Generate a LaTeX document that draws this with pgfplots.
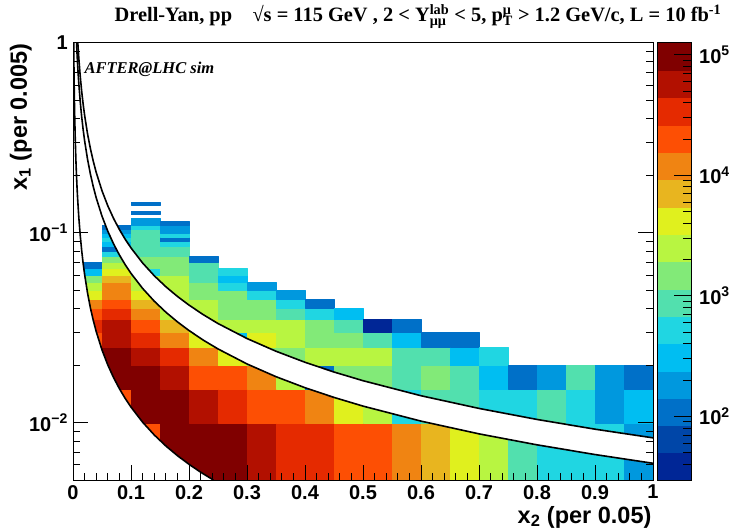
\documentclass[border=0pt]{standalone}
\usepackage{fontspec}
\setmainfont{Liberation Serif}
\setsansfont{Liberation Sans}
\usepackage{pgfplots}
\pgfplotsset{compat=1.18}
\usepgfplotslibrary{patchplots}
\pgfplotsset{
  rootmap/.style={colormap={root}{rgb255=(0,38,150) rgb255=(0,70,168) rgb255=(0,112,200) rgb255=(0,152,222) rgb255=(0,190,242) rgb255=(32,214,226) rgb255=(82,224,174) rgb255=(130,234,120) rgb255=(184,245,65) rgb255=(224,240,30) rgb255=(232,181,31) rgb255=(240,132,18) rgb255=(253,79,4) rgb255=(229,42,0) rgb255=(178,16,0) rgb255=(128,0,0)}},
}
\newcommand\tlfont{\sffamily\bfseries\fontsize{20}{20}\selectfont}
\newcommand\supsub[2]{\setbox0\hbox{\textsuperscript{#1}}\setbox2\hbox{\textsubscript{#2}}\ifdim\wd0>\wd2 \rlap{\box2}\box0 \else\rlap{\box0}\box2 \fi}
\begin{document}
\begin{tikzpicture}
\useasboundingbox (0pt,0pt) rectangle (741pt,531pt);
\begin{axis}[
  at={(73pt,51pt)}, anchor=south west,
  width=580pt, height=437pt, scale only axis,
  xmin=0, xmax=1, ymin=0.005, ymax=1, ymode=log,
  rootmap, point meta min=0, point meta max=15,
  axis on top,
  tick align=inside,
  xtick pos=left, ytick pos=both,
  xtick={0,0.1,0.2,0.3,0.4,0.5,0.6,0.7,0.8,0.9,1},
  xticklabels={0,0.1,0.2,0.3,0.4,0.5,0.6,0.7,0.8,0.9,1},
  minor x tick num=4,
  ytick={0.01,0.1,1},
  yticklabels={10\textsuperscript{−2},10\textsuperscript{−1},1},
  minor ytick={0.005,0.006,0.007,0.008,0.009,0.02,0.03,0.04,0.05,0.06,0.07,0.08,0.09,0.2,0.3,0.4,0.5,0.6,0.7,0.8,0.9},
  major tick length=15pt, minor tick length=7pt,
  every tick/.style={black, line width=1pt},
  axis line style={line width=1pt},
  xticklabel style={font=\tlfont, anchor=north, inner sep=0pt, yshift=-5pt},
  yticklabel style={font=\tlfont, anchor=east, inner sep=0pt, xshift=-5pt},
]
% 2D histogram cells: x2 bin width 0.05, x1 bin width 0.005; meta = colour level 0..15
\addplot[patch, patch type=rectangle, shader=flat, point meta=explicit] coordinates {
(0,0.025)[12] (0.05,0.025)[12] (0.05,0.03)[12] (0,0.03)[12]
(0,0.03)[13] (0.05,0.03)[13] (0.05,0.035)[13] (0,0.035)[13]
(0,0.035)[12] (0.05,0.035)[12] (0.05,0.04)[12] (0,0.04)[12]
(0,0.04)[11] (0.05,0.04)[11] (0.05,0.045)[11] (0,0.045)[11]
(0,0.045)[9] (0.05,0.045)[9] (0.05,0.05)[9] (0,0.05)[9]
(0,0.05)[8] (0.05,0.05)[8] (0.05,0.055)[8] (0,0.055)[8]
(0,0.055)[7] (0.05,0.055)[7] (0.05,0.06)[7] (0,0.06)[7]
(0,0.06)[4] (0.05,0.06)[4] (0.05,0.065)[4] (0,0.065)[4]
(0,0.065)[2] (0.05,0.065)[2] (0.05,0.07)[2] (0,0.07)[2]
(0.05,0.01)[12] (0.1,0.01)[12] (0.1,0.015)[12] (0.05,0.015)[12]
(0.05,0.015)[15] (0.1,0.015)[15] (0.1,0.02)[15] (0.05,0.02)[15]
(0.05,0.02)[15] (0.1,0.02)[15] (0.1,0.025)[15] (0.05,0.025)[15]
(0.05,0.025)[14] (0.1,0.025)[14] (0.1,0.03)[14] (0.05,0.03)[14]
(0.05,0.03)[14] (0.1,0.03)[14] (0.1,0.035)[14] (0.05,0.035)[14]
(0.05,0.035)[13] (0.1,0.035)[13] (0.1,0.04)[13] (0.05,0.04)[13]
(0.05,0.04)[12] (0.1,0.04)[12] (0.1,0.045)[12] (0.05,0.045)[12]
(0.05,0.045)[11] (0.1,0.045)[11] (0.1,0.05)[11] (0.05,0.05)[11]
(0.05,0.05)[11] (0.1,0.05)[11] (0.1,0.055)[11] (0.05,0.055)[11]
(0.05,0.055)[10] (0.1,0.055)[10] (0.1,0.06)[10] (0.05,0.06)[10]
(0.05,0.06)[9] (0.1,0.06)[9] (0.1,0.065)[9] (0.05,0.065)[9]
(0.05,0.065)[8] (0.1,0.065)[8] (0.1,0.07)[8] (0.05,0.07)[8]
(0.05,0.07)[7] (0.1,0.07)[7] (0.1,0.075)[7] (0.05,0.075)[7]
(0.05,0.075)[5] (0.1,0.075)[5] (0.1,0.08)[5] (0.05,0.08)[5]
(0.05,0.08)[2] (0.1,0.08)[2] (0.1,0.085)[2] (0.05,0.085)[2]
(0.05,0.085)[4] (0.1,0.085)[4] (0.1,0.09)[4] (0.05,0.09)[4]
(0.05,0.09)[5] (0.1,0.09)[5] (0.1,0.095)[5] (0.05,0.095)[5]
(0.05,0.095)[4] (0.1,0.095)[4] (0.1,0.1)[4] (0.05,0.1)[4]
(0.05,0.1)[3] (0.1,0.1)[3] (0.1,0.105)[3] (0.05,0.105)[3]
(0.05,0.105)[2] (0.1,0.105)[2] (0.1,0.11)[2] (0.05,0.11)[2]
(0.1,0.005)[12] (0.15,0.005)[12] (0.15,0.01)[12] (0.1,0.01)[12]
(0.1,0.01)[15] (0.15,0.01)[15] (0.15,0.015)[15] (0.1,0.015)[15]
(0.1,0.015)[15] (0.15,0.015)[15] (0.15,0.02)[15] (0.1,0.02)[15]
(0.1,0.02)[14] (0.15,0.02)[14] (0.15,0.025)[14] (0.1,0.025)[14]
(0.1,0.025)[13] (0.15,0.025)[13] (0.15,0.03)[13] (0.1,0.03)[13]
(0.1,0.03)[12] (0.15,0.03)[12] (0.15,0.035)[12] (0.1,0.035)[12]
(0.1,0.035)[11] (0.15,0.035)[11] (0.15,0.04)[11] (0.1,0.04)[11]
(0.1,0.04)[10] (0.15,0.04)[10] (0.15,0.045)[10] (0.1,0.045)[10]
(0.1,0.045)[9] (0.15,0.045)[9] (0.15,0.05)[9] (0.1,0.05)[9]
(0.1,0.05)[8] (0.15,0.05)[8] (0.15,0.055)[8] (0.1,0.055)[8]
(0.1,0.055)[8] (0.15,0.055)[8] (0.15,0.06)[8] (0.1,0.06)[8]
(0.1,0.06)[5] (0.15,0.06)[5] (0.15,0.065)[5] (0.1,0.065)[5]
(0.1,0.065)[7] (0.15,0.065)[7] (0.15,0.07)[7] (0.1,0.07)[7]
(0.1,0.07)[7] (0.15,0.07)[7] (0.15,0.075)[7] (0.1,0.075)[7]
(0.1,0.075)[6] (0.15,0.075)[6] (0.15,0.08)[6] (0.1,0.08)[6]
(0.1,0.08)[6] (0.15,0.08)[6] (0.15,0.085)[6] (0.1,0.085)[6]
(0.1,0.085)[6] (0.15,0.085)[6] (0.15,0.09)[6] (0.1,0.09)[6]
(0.1,0.09)[6] (0.15,0.09)[6] (0.15,0.095)[6] (0.1,0.095)[6]
(0.1,0.095)[6] (0.15,0.095)[6] (0.15,0.1)[6] (0.1,0.1)[6]
(0.1,0.1)[6] (0.15,0.1)[6] (0.15,0.105)[6] (0.1,0.105)[6]
(0.1,0.105)[5] (0.15,0.105)[5] (0.15,0.11)[5] (0.1,0.11)[5]
(0.1,0.11)[3] (0.15,0.11)[3] (0.15,0.115)[3] (0.1,0.115)[3]
(0.1,0.115)[3] (0.15,0.115)[3] (0.15,0.12)[3] (0.1,0.12)[3]
(0.1,0.125)[2] (0.15,0.125)[2] (0.15,0.13)[2] (0.1,0.13)[2]
(0.1,0.14)[2] (0.15,0.14)[2] (0.15,0.145)[2] (0.1,0.145)[2]
(0.15,0.005)[15] (0.2,0.005)[15] (0.2,0.01)[15] (0.15,0.01)[15]
(0.15,0.01)[15] (0.2,0.01)[15] (0.2,0.015)[15] (0.15,0.015)[15]
(0.15,0.015)[14] (0.2,0.015)[14] (0.2,0.02)[14] (0.15,0.02)[14]
(0.15,0.02)[13] (0.2,0.02)[13] (0.2,0.025)[13] (0.15,0.025)[13]
(0.15,0.025)[11] (0.2,0.025)[11] (0.2,0.03)[11] (0.15,0.03)[11]
(0.15,0.03)[10] (0.2,0.03)[10] (0.2,0.035)[10] (0.15,0.035)[10]
(0.15,0.035)[8] (0.2,0.035)[8] (0.2,0.04)[8] (0.15,0.04)[8]
(0.15,0.04)[8] (0.2,0.04)[8] (0.2,0.045)[8] (0.15,0.045)[8]
(0.15,0.045)[8] (0.2,0.045)[8] (0.2,0.05)[8] (0.15,0.05)[8]
(0.15,0.05)[8] (0.2,0.05)[8] (0.2,0.055)[8] (0.15,0.055)[8]
(0.15,0.055)[8] (0.2,0.055)[8] (0.2,0.06)[8] (0.15,0.06)[8]
(0.15,0.06)[7] (0.2,0.06)[7] (0.2,0.065)[7] (0.15,0.065)[7]
(0.15,0.065)[7] (0.2,0.065)[7] (0.2,0.07)[7] (0.15,0.07)[7]
(0.15,0.07)[7] (0.2,0.07)[7] (0.2,0.075)[7] (0.15,0.075)[7]
(0.15,0.075)[6] (0.2,0.075)[6] (0.2,0.08)[6] (0.15,0.08)[6]
(0.15,0.08)[6] (0.2,0.08)[6] (0.2,0.085)[6] (0.15,0.085)[6]
(0.15,0.085)[5] (0.2,0.085)[5] (0.2,0.09)[5] (0.15,0.09)[5]
(0.15,0.09)[2] (0.2,0.09)[2] (0.2,0.095)[2] (0.15,0.095)[2]
(0.15,0.095)[5] (0.2,0.095)[5] (0.2,0.1)[5] (0.15,0.1)[5]
(0.15,0.1)[3] (0.2,0.1)[3] (0.2,0.105)[3] (0.15,0.105)[3]
(0.15,0.105)[3] (0.2,0.105)[3] (0.2,0.11)[3] (0.15,0.11)[3]
(0.15,0.11)[2] (0.2,0.11)[2] (0.2,0.115)[2] (0.15,0.115)[2]
(0.2,0.005)[15] (0.25,0.005)[15] (0.25,0.01)[15] (0.2,0.01)[15]
(0.2,0.01)[14] (0.25,0.01)[14] (0.25,0.015)[14] (0.2,0.015)[14]
(0.2,0.015)[12] (0.25,0.015)[12] (0.25,0.02)[12] (0.2,0.02)[12]
(0.2,0.02)[11] (0.25,0.02)[11] (0.25,0.025)[11] (0.2,0.025)[11]
(0.2,0.025)[9] (0.25,0.025)[9] (0.25,0.03)[9] (0.2,0.03)[9]
(0.2,0.03)[9] (0.25,0.03)[9] (0.25,0.035)[9] (0.2,0.035)[9]
(0.2,0.035)[8] (0.25,0.035)[8] (0.25,0.04)[8] (0.2,0.04)[8]
(0.2,0.04)[8] (0.25,0.04)[8] (0.25,0.045)[8] (0.2,0.045)[8]
(0.2,0.045)[7] (0.25,0.045)[7] (0.25,0.05)[7] (0.2,0.05)[7]
(0.2,0.05)[7] (0.25,0.05)[7] (0.25,0.055)[7] (0.2,0.055)[7]
(0.2,0.055)[6] (0.25,0.055)[6] (0.25,0.06)[6] (0.2,0.06)[6]
(0.2,0.06)[6] (0.25,0.06)[6] (0.25,0.065)[6] (0.2,0.065)[6]
(0.2,0.065)[6] (0.25,0.065)[6] (0.25,0.07)[6] (0.2,0.07)[6]
(0.2,0.07)[2] (0.25,0.07)[2] (0.25,0.075)[2] (0.2,0.075)[2]
(0.25,0.005)[15] (0.3,0.005)[15] (0.3,0.01)[15] (0.25,0.01)[15]
(0.25,0.01)[13] (0.3,0.01)[13] (0.3,0.015)[13] (0.25,0.015)[13]
(0.25,0.015)[12] (0.3,0.015)[12] (0.3,0.02)[12] (0.25,0.02)[12]
(0.25,0.02)[9] (0.3,0.02)[9] (0.3,0.025)[9] (0.25,0.025)[9]
(0.25,0.025)[4] (0.3,0.025)[4] (0.3,0.03)[4] (0.25,0.03)[4]
(0.25,0.03)[8] (0.3,0.03)[8] (0.3,0.035)[8] (0.25,0.035)[8]
(0.25,0.035)[7] (0.3,0.035)[7] (0.3,0.04)[7] (0.25,0.04)[7]
(0.25,0.04)[7] (0.3,0.04)[7] (0.3,0.045)[7] (0.25,0.045)[7]
(0.25,0.045)[7] (0.3,0.045)[7] (0.3,0.05)[7] (0.25,0.05)[7]
(0.25,0.05)[5] (0.3,0.05)[5] (0.3,0.055)[5] (0.25,0.055)[5]
(0.25,0.055)[4] (0.3,0.055)[4] (0.3,0.06)[4] (0.25,0.06)[4]
(0.25,0.06)[5] (0.3,0.06)[5] (0.3,0.065)[5] (0.25,0.065)[5]
(0.3,0.005)[14] (0.35,0.005)[14] (0.35,0.01)[14] (0.3,0.01)[14]
(0.3,0.01)[12] (0.35,0.01)[12] (0.35,0.015)[12] (0.3,0.015)[12]
(0.3,0.015)[11] (0.35,0.015)[11] (0.35,0.02)[11] (0.3,0.02)[11]
(0.3,0.02)[7] (0.35,0.02)[7] (0.35,0.025)[7] (0.3,0.025)[7]
(0.3,0.025)[9] (0.35,0.025)[9] (0.35,0.03)[9] (0.3,0.03)[9]
(0.3,0.03)[8] (0.35,0.03)[8] (0.35,0.035)[8] (0.3,0.035)[8]
(0.3,0.035)[7] (0.35,0.035)[7] (0.35,0.04)[7] (0.3,0.04)[7]
(0.3,0.04)[7] (0.35,0.04)[7] (0.35,0.045)[7] (0.3,0.045)[7]
(0.3,0.045)[5] (0.35,0.045)[5] (0.35,0.05)[5] (0.3,0.05)[5]
(0.3,0.05)[3] (0.35,0.05)[3] (0.35,0.055)[3] (0.3,0.055)[3]
(0.35,0.005)[13] (0.4,0.005)[13] (0.4,0.01)[13] (0.35,0.01)[13]
(0.35,0.01)[12] (0.4,0.01)[12] (0.4,0.015)[12] (0.35,0.015)[12]
(0.35,0.015)[8] (0.4,0.015)[8] (0.4,0.02)[8] (0.35,0.02)[8]
(0.35,0.02)[7] (0.4,0.02)[7] (0.4,0.025)[7] (0.35,0.025)[7]
(0.35,0.025)[8] (0.4,0.025)[8] (0.4,0.03)[8] (0.35,0.03)[8]
(0.35,0.03)[8] (0.4,0.03)[8] (0.4,0.035)[8] (0.35,0.035)[8]
(0.35,0.035)[6] (0.4,0.035)[6] (0.4,0.04)[6] (0.35,0.04)[6]
(0.35,0.04)[5] (0.4,0.04)[5] (0.4,0.045)[5] (0.35,0.045)[5]
(0.35,0.045)[3] (0.4,0.045)[3] (0.4,0.05)[3] (0.35,0.05)[3]
(0.4,0.005)[13] (0.45,0.005)[13] (0.45,0.01)[13] (0.4,0.01)[13]
(0.4,0.01)[11] (0.45,0.01)[11] (0.45,0.015)[11] (0.4,0.015)[11]
(0.4,0.015)[2] (0.45,0.015)[2] (0.45,0.02)[2] (0.4,0.02)[2]
(0.4,0.02)[8] (0.45,0.02)[8] (0.45,0.025)[8] (0.4,0.025)[8]
(0.4,0.025)[7] (0.45,0.025)[7] (0.45,0.03)[7] (0.4,0.03)[7]
(0.4,0.03)[7] (0.45,0.03)[7] (0.45,0.035)[7] (0.4,0.035)[7]
(0.4,0.035)[5] (0.45,0.035)[5] (0.45,0.04)[5] (0.4,0.04)[5]
(0.4,0.04)[2] (0.45,0.04)[2] (0.45,0.045)[2] (0.4,0.045)[2]
(0.45,0.005)[12] (0.5,0.005)[12] (0.5,0.01)[12] (0.45,0.01)[12]
(0.45,0.01)[9] (0.5,0.01)[9] (0.5,0.015)[9] (0.45,0.015)[9]
(0.45,0.015)[7] (0.5,0.015)[7] (0.5,0.02)[7] (0.45,0.02)[7]
(0.45,0.02)[8] (0.5,0.02)[8] (0.5,0.025)[8] (0.45,0.025)[8]
(0.45,0.025)[7] (0.5,0.025)[7] (0.5,0.03)[7] (0.45,0.03)[7]
(0.45,0.03)[6] (0.5,0.03)[6] (0.5,0.035)[6] (0.45,0.035)[6]
(0.45,0.035)[4] (0.5,0.035)[4] (0.5,0.04)[4] (0.45,0.04)[4]
(0.5,0.005)[12] (0.55,0.005)[12] (0.55,0.01)[12] (0.5,0.01)[12]
(0.5,0.01)[8] (0.55,0.01)[8] (0.55,0.015)[8] (0.5,0.015)[8]
(0.5,0.015)[7] (0.55,0.015)[7] (0.55,0.02)[7] (0.5,0.02)[7]
(0.5,0.02)[8] (0.55,0.02)[8] (0.55,0.025)[8] (0.5,0.025)[8]
(0.5,0.025)[6] (0.55,0.025)[6] (0.55,0.03)[6] (0.5,0.03)[6]
(0.5,0.03)[0] (0.55,0.03)[0] (0.55,0.035)[0] (0.5,0.035)[0]
(0.55,0.005)[11] (0.6,0.005)[11] (0.6,0.01)[11] (0.55,0.01)[11]
(0.55,0.01)[5] (0.6,0.01)[5] (0.6,0.015)[5] (0.55,0.015)[5]
(0.55,0.015)[6] (0.6,0.015)[6] (0.6,0.02)[6] (0.55,0.02)[6]
(0.55,0.02)[6] (0.6,0.02)[6] (0.6,0.025)[6] (0.55,0.025)[6]
(0.55,0.025)[4] (0.6,0.025)[4] (0.6,0.03)[4] (0.55,0.03)[4]
(0.55,0.03)[2] (0.6,0.03)[2] (0.6,0.035)[2] (0.55,0.035)[2]
(0.6,0.005)[10] (0.65,0.005)[10] (0.65,0.01)[10] (0.6,0.01)[10]
(0.6,0.01)[6] (0.65,0.01)[6] (0.65,0.015)[6] (0.6,0.015)[6]
(0.6,0.015)[7] (0.65,0.015)[7] (0.65,0.02)[7] (0.6,0.02)[7]
(0.6,0.02)[6] (0.65,0.02)[6] (0.65,0.025)[6] (0.6,0.025)[6]
(0.6,0.025)[2] (0.65,0.025)[2] (0.65,0.03)[2] (0.6,0.03)[2]
(0.65,0.005)[9] (0.7,0.005)[9] (0.7,0.01)[9] (0.65,0.01)[9]
(0.65,0.01)[6] (0.7,0.01)[6] (0.7,0.015)[6] (0.65,0.015)[6]
(0.65,0.015)[6] (0.7,0.015)[6] (0.7,0.02)[6] (0.65,0.02)[6]
(0.65,0.02)[4] (0.7,0.02)[4] (0.7,0.025)[4] (0.65,0.025)[4]
(0.65,0.025)[2] (0.7,0.025)[2] (0.7,0.03)[2] (0.65,0.03)[2]
(0.7,0.005)[8] (0.75,0.005)[8] (0.75,0.01)[8] (0.7,0.01)[8]
(0.7,0.01)[5] (0.75,0.01)[5] (0.75,0.015)[5] (0.7,0.015)[5]
(0.7,0.015)[4] (0.75,0.015)[4] (0.75,0.02)[4] (0.7,0.02)[4]
(0.7,0.02)[5] (0.75,0.02)[5] (0.75,0.025)[5] (0.7,0.025)[5]
(0.75,0.005)[6] (0.8,0.005)[6] (0.8,0.01)[6] (0.75,0.01)[6]
(0.75,0.01)[5] (0.8,0.01)[5] (0.8,0.015)[5] (0.75,0.015)[5]
(0.75,0.015)[2] (0.8,0.015)[2] (0.8,0.02)[2] (0.75,0.02)[2]
(0.8,0.005)[5] (0.85,0.005)[5] (0.85,0.01)[5] (0.8,0.01)[5]
(0.8,0.01)[6] (0.85,0.01)[6] (0.85,0.015)[6] (0.8,0.015)[6]
(0.8,0.015)[3] (0.85,0.015)[3] (0.85,0.02)[3] (0.8,0.02)[3]
(0.85,0.005)[5] (0.9,0.005)[5] (0.9,0.01)[5] (0.85,0.01)[5]
(0.85,0.01)[5] (0.9,0.01)[5] (0.9,0.015)[5] (0.85,0.015)[5]
(0.85,0.015)[6] (0.9,0.015)[6] (0.9,0.02)[6] (0.85,0.02)[6]
(0.9,0.005)[5] (0.95,0.005)[5] (0.95,0.01)[5] (0.9,0.01)[5]
(0.9,0.01)[3] (0.95,0.01)[3] (0.95,0.015)[3] (0.9,0.015)[3]
(0.9,0.015)[3] (0.95,0.015)[3] (0.95,0.02)[3] (0.9,0.02)[3]
(0.95,0.005)[3] (1,0.005)[3] (1,0.01)[3] (0.95,0.01)[3]
(0.95,0.01)[4] (1,0.01)[4] (1,0.015)[4] (0.95,0.015)[4]
(0.95,0.015)[2] (1,0.015)[2] (1,0.02)[2] (0.95,0.02)[2]
};
% kinematic limit M = 4 GeV: region below is empty
\addplot[fill=white, draw=none] coordinates {
(0,1) (0.00121,1) (0.0015,0.8067) (0.002,0.605) (0.0025,0.484) (0.003,0.4033) (0.004,0.3025) (0.005,0.242) (0.006,0.2017) (0.007,0.1729) (0.008,0.1513) (0.01,0.121) (0.0125,0.0968) (0.015,0.0807) (0.0175,0.0691) (0.02,0.0605) (0.025,0.0484) (0.03,0.0403) (0.035,0.0346) (0.04,0.03025) (0.05,0.0242) (0.06,0.02017) (0.07,0.01729) (0.08,0.01513) (0.09,0.01344) (0.1,0.0121) (0.12,0.01008) (0.14,0.00864) (0.16,0.00756) (0.18,0.00672) (0.2,0.00605) (0.22,0.0055) (0.242,0.005) (0,0.005)
};
% excluded Upsilon band 9 < M < 10.5 GeV
\addplot[fill=white, draw=none] coordinates {
(0.008336,1) (0.009,0.9262) (0.01,0.8336) (0.0125,0.6669) (0.015,0.5557) (0.0175,0.4763) (0.02,0.4168) (0.025,0.3334) (0.03,0.2779) (0.035,0.2382) (0.04,0.2084) (0.05,0.1667) (0.06,0.1389) (0.07,0.1191) (0.08,0.1042) (0.09,0.09262) (0.1,0.08336) (0.12,0.06947) (0.14,0.05954) (0.16,0.0521) (0.18,0.04631) (0.2,0.04168) (0.225,0.03705) (0.25,0.03334) (0.3,0.02779) (0.35,0.02382) (0.4,0.02084) (0.45,0.01852) (0.5,0.01667) (0.6,0.01389) (0.7,0.01191) (0.8,0.01042) (0.9,0.00926) (1,0.008336)
(1,0.006125) (0.9,0.00681) (0.8,0.00766) (0.7,0.00875) (0.6,0.01021) (0.5,0.01225) (0.45,0.01361) (0.4,0.01531) (0.35,0.0175) (0.3,0.02042) (0.25,0.0245) (0.225,0.02722) (0.2,0.030625) (0.18,0.03403) (0.16,0.03828) (0.14,0.04375) (0.12,0.05104) (0.1,0.06125) (0.09,0.06806) (0.08,0.07656) (0.07,0.0875) (0.06,0.1021) (0.05,0.1225) (0.04,0.1531) (0.035,0.175) (0.03,0.2042) (0.025,0.245) (0.02,0.30625) (0.0175,0.35) (0.015,0.4083) (0.0125,0.49) (0.01,0.6125) (0.009,0.6806) (0.008,0.7656) (0.007,0.875) (0.006125,1)
};
\addplot[black, line width=1.6pt] coordinates {
(0.00121,1) (0.0015,0.8067) (0.002,0.605) (0.0025,0.484) (0.003,0.4033) (0.004,0.3025) (0.005,0.242) (0.006,0.2017) (0.007,0.1729) (0.008,0.1513) (0.01,0.121) (0.0125,0.0968) (0.015,0.0807) (0.0175,0.0691) (0.02,0.0605) (0.025,0.0484) (0.03,0.0403) (0.035,0.0346) (0.04,0.03025) (0.05,0.0242) (0.06,0.02017) (0.07,0.01729) (0.08,0.01513) (0.09,0.01344) (0.1,0.0121) (0.12,0.01008) (0.14,0.00864) (0.16,0.00756) (0.18,0.00672) (0.2,0.00605) (0.22,0.0055) (0.242,0.005)
};
\addplot[black, line width=1.6pt] coordinates {
(0.008336,1) (0.009,0.9262) (0.01,0.8336) (0.0125,0.6669) (0.015,0.5557) (0.0175,0.4763) (0.02,0.4168) (0.025,0.3334) (0.03,0.2779) (0.035,0.2382) (0.04,0.2084) (0.05,0.1667) (0.06,0.1389) (0.07,0.1191) (0.08,0.1042) (0.09,0.09262) (0.1,0.08336) (0.12,0.06947) (0.14,0.05954) (0.16,0.0521) (0.18,0.04631) (0.2,0.04168) (0.225,0.03705) (0.25,0.03334) (0.3,0.02779) (0.35,0.02382) (0.4,0.02084) (0.45,0.01852) (0.5,0.01667) (0.6,0.01389) (0.7,0.01191) (0.8,0.01042) (0.9,0.00926) (1,0.008336)
};
\addplot[black, line width=1.6pt] coordinates {
(0.006125,1) (0.007,0.875) (0.008,0.7656) (0.009,0.6806) (0.01,0.6125) (0.0125,0.49) (0.015,0.4083) (0.0175,0.35) (0.02,0.30625) (0.025,0.245) (0.03,0.2042) (0.035,0.175) (0.04,0.1531) (0.05,0.1225) (0.06,0.1021) (0.07,0.0875) (0.08,0.07656) (0.09,0.06806) (0.1,0.06125) (0.12,0.05104) (0.14,0.04375) (0.16,0.03828) (0.18,0.03403) (0.2,0.030625) (0.225,0.02722) (0.25,0.0245) (0.3,0.02042) (0.35,0.0175) (0.4,0.01531) (0.45,0.01361) (0.5,0.01225) (0.6,0.01021) (0.7,0.00875) (0.8,0.00766) (0.9,0.00681) (1,0.006125)
};
\end{axis}
% colour scale
\begin{axis}[
  at={(657pt,51pt)}, anchor=south west,
  width=34pt, height=437pt, scale only axis,
  xmin=0, xmax=1, ymin=29.65, ymax=125200, ymode=log,
  rootmap, point meta min=0, point meta max=15,
  axis on top, tick align=inside,
  xtick=\empty,
  ytick pos=right, yticklabel pos=right,
  ytick={100,1000,10000,100000},
  yticklabels={10\textsuperscript{2},10\textsuperscript{3},10\textsuperscript{4},10\textsuperscript{5}},
  minor ytick={40,50,60,70,80,90,200,300,400,500,600,700,800,900,2000,3000,4000,5000,6000,7000,8000,9000,20000,30000,40000,50000,60000,70000,80000,90000},
  major tick length=17pt, minor tick length=8pt,
  every tick/.style={black, line width=1pt},
  axis line style={line width=1pt},
  yticklabel style={font=\tlfont, anchor=west, inner sep=0pt, xshift=8pt},
]
\addplot[patch, patch type=rectangle, shader=flat, point meta=explicit] coordinates {
(0,29.65)[0] (1,29.65)[0] (1,49.95)[0] (0,49.95)[0]
(0,49.95)[1] (1,49.95)[1] (1,84.18)[1] (0,84.18)[1]
(0,84.18)[2] (1,84.18)[2] (1,141.8)[2] (0,141.8)[2]
(0,141.8)[3] (1,141.8)[3] (1,239.0)[3] (0,239.0)[3]
(0,239.0)[4] (1,239.0)[4] (1,402.7)[4] (0,402.7)[4]
(0,402.7)[5] (1,402.7)[5] (1,678.5)[5] (0,678.5)[5]
(0,678.5)[6] (1,678.5)[6] (1,1143.6)[6] (0,1143.6)[6]
(0,1143.6)[7] (1,1143.6)[7] (1,1927)[7] (0,1927)[7]
(0,1927)[8] (1,1927)[8] (1,3247)[8] (0,3247)[8]
(0,3247)[9] (1,3247)[9] (1,5470)[9] (0,5470)[9]
(0,5470)[10] (1,5470)[10] (1,9218)[10] (0,9218)[10]
(0,9218)[11] (1,9218)[11] (1,15534)[11] (0,15534)[11]
(0,15534)[12] (1,15534)[12] (1,26171)[12] (0,26171)[12]
(0,26171)[13] (1,26171)[13] (1,44100)[13] (0,44100)[13]
(0,44100)[14] (1,44100)[14] (1,74300)[14] (0,74300)[14]
(0,74300)[15] (1,74300)[15] (1,125200)[15] (0,125200)[15]
};
\end{axis}
\node[anchor=base, font=\bfseries\fontsize{20.4}{24}\selectfont] at (418pt,509pt)
  {Drell-Yan, pp\quad √s = 115 GeV , 2 < Y\supsub{lab}{μμ} < 5, p\supsub{μ}{T} > 1.2 GeV/c, L = 10 fb\textsuperscript{-1}};
\node[anchor=base west, font=\bfseries\itshape\fontsize{16.5}{16.5}\selectfont] at (81pt,457pt) {AFTER@LHC sim};
\node[anchor=base east, font=\sffamily\bfseries\fontsize{23.5}{23.5}\selectfont] at (655pt,8pt) {x\textsubscript{2} (per 0.05)};
\node[rotate=90, anchor=base east, font=\sffamily\bfseries\fontsize{23.5}{23.5}\selectfont] at (27pt,491pt) {x\textsubscript{1} (per 0.005)};
\end{tikzpicture}
\end{document}
